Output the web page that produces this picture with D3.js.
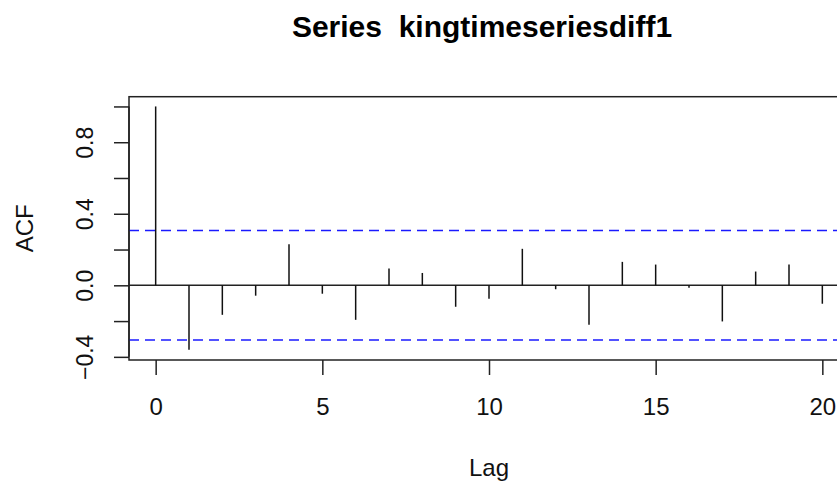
<!DOCTYPE html>
<html>
<head>
<meta charset="utf-8">
<script src="https://cdn.jsdelivr.net/npm/d3@7"></script>
<style>
  html, body { margin: 0; padding: 0; background: #fff; overflow: hidden; }
  svg { display: block; font-family: "Liberation Sans", Arial, sans-serif; }
</style>
</head>
<body>
<svg id="chart" width="837" height="483"></svg>
<script>
// ACF of kingtimeseriesdiff1
var lags = [0, 1, 2, 3, 4, 5, 6, 7, 8, 9, 10, 11, 12, 13, 14, 15, 16, 17, 18, 19, 20];
var acfValues = [1.0, -0.36, -0.165, -0.058, 0.23, -0.047, -0.193, 0.094, 0.069, -0.12,
    -0.075, 0.204, -0.022, -0.221, 0.131, 0.116, -0.013, -0.202, 0.077, 0.116, -0.103];
var clim = 0.306;              // 1.96 / sqrt(41)
var xTicks = [0, 5, 10, 15, 20];
var yTicks = [-0.4, -0.2, 0.0, 0.2, 0.4, 0.6, 0.8, 1.0];
var yLabels = [-0.4, 0.0, 0.4, 0.8];   // R drops the overlapping ones

(function () {
    var svg = d3.select('#chart');

    // plot region (right edge runs past the picture, as in the original)
    var left = 129, right = 849, top = 96.7, bottom = 360;

    var x = d3.scaleLinear().domain([-0.8, 20.8]).range([left, right]);
    var y = d3.scaleLinear().domain([-0.4176, 1.0545]).range([bottom, top]);

    // frame
    svg.append('rect')
        .attr('x', left).attr('y', top)
        .attr('width', right - left).attr('height', bottom - top)
        .attr('fill', 'none').attr('stroke', '#222').attr('stroke-width', 1.5);

    // zero line
    svg.append('line')
        .attr('x1', left).attr('x2', right)
        .attr('y1', y(0)).attr('y2', y(0))
        .attr('stroke', '#222').attr('stroke-width', 1.4);

    // confidence bounds
    svg.selectAll('line.clim')
        .data([clim, -clim])
        .join('line')
        .attr('class', 'clim')
        .attr('x1', left).attr('x2', right)
        .attr('y1', function (d) { return y(d); })
        .attr('y2', function (d) { return y(d); })
        .attr('stroke', '#1a1aff').attr('stroke-width', 1.5)
        .attr('stroke-dasharray', '10,6');

    // spikes
    svg.selectAll('line.spike')
        .data(lags)
        .join('line')
        .attr('class', 'spike')
        .attr('x1', function (d) { return x(d); })
        .attr('x2', function (d) { return x(d); })
        .attr('y1', y(0))
        .attr('y2', function (d, i) { return y(acfValues[i]); })
        .attr('stroke', '#111').attr('stroke-width', 1.5);

    // x axis
    var xAxis = d3.axisBottom(x).tickValues(xTicks).tickSize(15).tickPadding(23)
        .tickFormat(d3.format('d'));
    var gx = svg.append('g').attr('transform', 'translate(0,' + bottom + ')').call(xAxis);
    gx.select('.domain').remove();
    gx.selectAll('.tick line').attr('stroke', '#222').attr('stroke-width', 1.5);
    gx.selectAll('.tick text').attr('font-size', 24).attr('fill', '#111')
        .attr('font-family', '"Liberation Sans", Arial, sans-serif');

    // y axis
    var yAxis = d3.axisLeft(y).tickValues(yTicks).tickSize(15).tickPadding(0)
        .tickFormat(function (d) {
            return yLabels.some(function (v) { return Math.abs(v - d) < 1e-9; }) ? d3.format('.1f')(d) : '';
        });
    var gy = svg.append('g').attr('transform', 'translate(' + left + ',0)').call(yAxis);
    gy.select('.domain')
        .attr('d', 'M0,' + y(-0.4) + 'V' + y(1.0))
        .attr('stroke', '#222').attr('stroke-width', 1.5);
    gy.selectAll('.tick line').attr('stroke', '#222').attr('stroke-width', 1.5);
    gy.selectAll('.tick text')
        .attr('font-size', 23).attr('fill', '#111')
        .attr('font-family', '"Liberation Sans", Arial, sans-serif')
        .attr('x', null).attr('dy', null)
        .attr('text-anchor', 'middle')
        .attr('transform', 'translate(-36,0) rotate(-90)');

    // title and axis titles
    svg.append('text')
        .attr('x', 482).attr('y', 37)
        .attr('text-anchor', 'middle')
        .attr('font-size', 30).attr('font-weight', 700).attr('fill', '#000')
        .attr('xml:space', 'preserve')
        .text('Series  kingtimeseriesdiff1');

    svg.append('text')
        .attr('x', 489).attr('y', 476)
        .attr('text-anchor', 'middle')
        .attr('font-size', 24).attr('fill', '#111')
        .text('Lag');

    svg.append('text')
        .attr('transform', 'translate(33,' + ((top + bottom) / 2) + ') rotate(-90)')
        .attr('text-anchor', 'middle')
        .attr('font-size', 24).attr('fill', '#111')
        .text('ACF');
})();
</script>
</body>
</html>
